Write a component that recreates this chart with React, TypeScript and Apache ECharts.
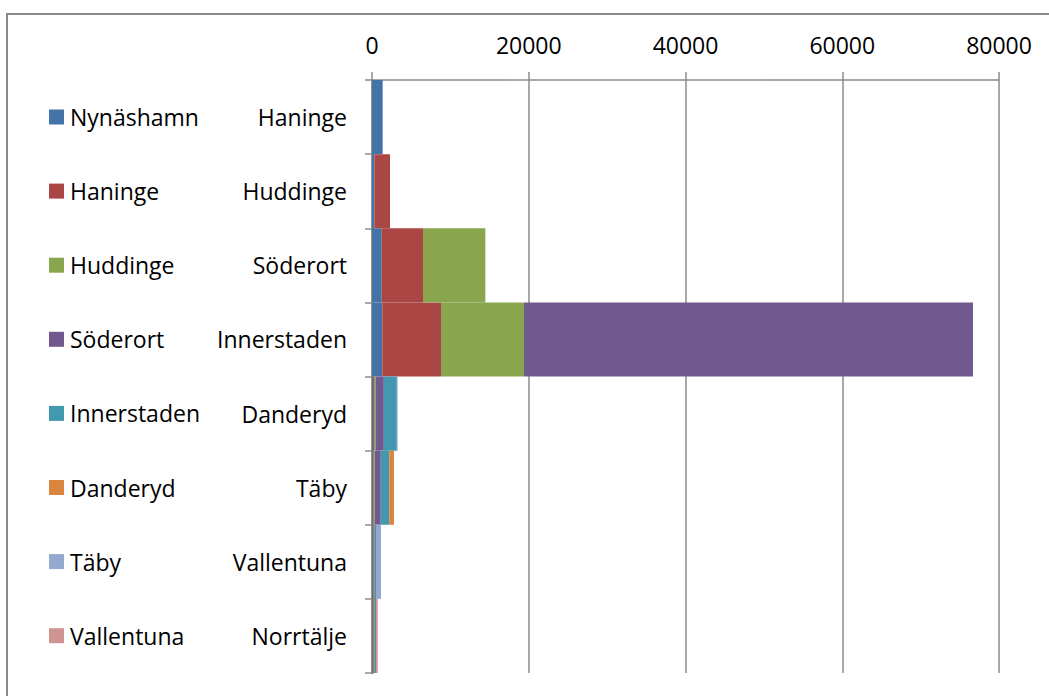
import React, { useEffect, useRef } from "react";
import * as echarts from "echarts";

const categories = ["Haninge", "Huddinge", "Söderort", "Innerstaden", "Danderyd", "Täby", "Vallentuna", "Norrtälje"];
const seriesNames = ["Nynäshamn", "Haninge", "Huddinge", "Söderort", "Innerstaden", "Danderyd", "Täby", "Vallentuna"];
const colors = ["#4572A7", "#AA4643", "#89A54E", "#71588F", "#4198AF", "#DB843D", "#93A9CF", "#D19392"];

// values per series, indexed by category (Haninge ... Norrtälje)
const nynashamn = [1360, 300, 1240, 1315, 150, 100, 100, 100];
const haninge = [0, 2000, 5270, 7490, 100, 100, 100, 100];
const huddinge = [0, 0, 7950, 10590, 200, 150, 100, 100];
const soderort = [0, 0, 0, 57290, 1060, 770, 80, 80];
const innerstaden = [0, 0, 0, 0, 1660, 1080, 130, 130];
const danderyd = [0, 0, 0, 0, 0, 600, 0, 0];
const taby = [0, 0, 0, 0, 100, 0, 640, 0];
const vallentuna = [0, 0, 0, 0, 0, 0, 0, 220];

const seriesValues = [nynashamn, haninge, huddinge, soderort, innerstaden, danderyd, taby, vallentuna];

const xTicks = { min: 0, max: 80000, interval: 20000 };

const FONT = "'Open Sans', 'Noto Sans', sans-serif";

export default function App() {
  const ref = useRef<HTMLDivElement>(null);
  useEffect(() => {
    document.body.style.margin = "0";
    const chart = echarts.init(ref.current!, null, { renderer: "svg" });
    chart.setOption({
      animation: false,
      backgroundColor: "#ffffff",
      color: colors,
      textStyle: { fontFamily: FONT },
      grid: { left: 372, right: 50, top: 80, bottom: 23, containLabel: false },
      legend: {
        orient: "vertical",
        left: 49,
        top: 105,
        padding: 0,
        itemWidth: 15,
        itemHeight: 15,
        itemGap: 50.1,
        icon: "rect",
        textStyle: { fontSize: 23, color: "#000", fontFamily: FONT, lineHeight: 24, padding: [0, 0, 0, 1] },
        data: seriesNames,
      },
      xAxis: {
        type: "value",
        position: "top",
        min: xTicks.min,
        max: xTicks.max,
        interval: xTicks.interval,
        axisLine: { show: true, lineStyle: { color: "#8c8c8c", width: 1.5 } },
        axisTick: { show: true, length: 8, lineStyle: { color: "#8c8c8c", width: 1.5 } },
        splitLine: { show: true, lineStyle: { color: "#8c8c8c", width: 1.5 } },
        axisLabel: { fontSize: 23, color: "#000", margin: 24, fontFamily: FONT, formatter: (v: number) => String(v) },
      },
      yAxis: {
        type: "category",
        inverse: true,
        data: categories,
        axisLine: { show: true, lineStyle: { color: "#8c8c8c", width: 2.5 } },
        axisTick: { show: true, length: 7, lineStyle: { color: "#8c8c8c", width: 1.5 } },
        axisLabel: { fontSize: 23, color: "#000", margin: 25, fontFamily: FONT },
      },
      graphic: [
        {
          type: "rect",
          shape: { x: 7, y: 14, width: 1200, height: 1000 },
          style: { fill: "none", stroke: "#8a8a8a", lineWidth: 2 },
          silent: true,
          z: 100,
        },
      ],
      series: seriesNames.map((name, i) => ({
        name,
        type: "bar",
        stack: "total",
        barCategoryGap: "0%",
        barWidth: "100%",
        data: seriesValues[i],
        itemStyle: { color: colors[i] },
      })),
    });
    return () => chart.dispose();
  }, []);
  return <div ref={ref} style={{ width: 1049, height: 696 }} />;
}
